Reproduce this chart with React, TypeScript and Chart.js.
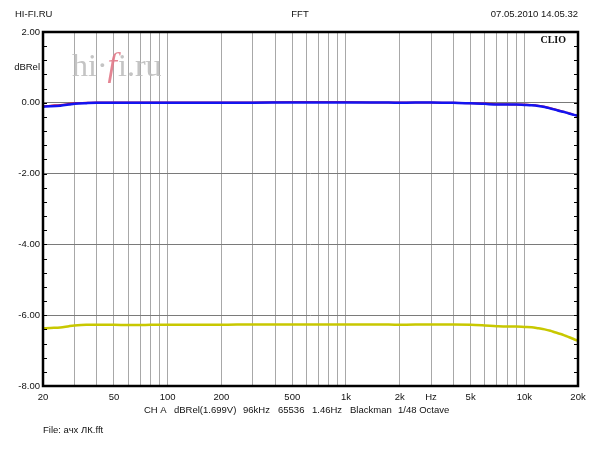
import React, { useEffect, useRef } from 'react';
import { Chart, registerables } from 'chart.js';
Chart.register(...registerables);

const freqs = [20, 22, 25, 28, 30, 35, 40, 50, 60, 70, 80, 100, 150, 200, 300, 500, 700, 1000, 1500, 2000, 3000, 4000, 5000, 6000, 7000, 8000, 9000, 10000, 11000, 12000, 13000, 14000, 15000, 16000, 17000, 18000, 19000, 20000];
const blueDb = [-0.11, -0.10, -0.08, -0.05, -0.03, -0.01, 0.0, 0.0, 0.0, 0.0, 0.0, 0.0, 0.0, 0.0, 0.0, 0.01, 0.01, 0.01, 0.01, 0.0, 0.01, 0.0, -0.01, -0.03, -0.05, -0.05, -0.05, -0.06, -0.07, -0.09, -0.12, -0.16, -0.20, -0.24, -0.27, -0.31, -0.34, -0.37];
const redDb = [-0.10, -0.08, -0.06, -0.03, -0.01, 0.0, 0.01, 0.01, 0.01, 0.01, 0.01, 0.01, 0.01, 0.01, 0.01, 0.02, 0.02, 0.02, 0.01, 0.01, 0.01, 0.0, -0.01, -0.02, -0.04, -0.04, -0.05, -0.05, -0.06, -0.08, -0.11, -0.15, -0.19, -0.23, -0.27, -0.30, -0.34, -0.37];
const yellowDb = [-6.37, -6.36, -6.35, -6.31, -6.29, -6.27, -6.27, -6.27, -6.28, -6.28, -6.27, -6.27, -6.27, -6.27, -6.26, -6.26, -6.26, -6.26, -6.26, -6.27, -6.26, -6.26, -6.27, -6.29, -6.31, -6.32, -6.32, -6.33, -6.34, -6.37, -6.40, -6.44, -6.49, -6.53, -6.58, -6.63, -6.68, -6.72];

const gridFreqs = [20, 30, 40, 50, 60, 70, 80, 90, 100, 200, 300, 400, 500, 600, 700, 800, 900, 1000, 2000, 3000, 4000, 5000, 6000, 7000, 8000, 9000, 10000, 20000];
const xLabels: Record<number, string> = { 20: '20', 50: '50', 100: '100', 200: '200', 500: '500', 1000: '1k', 2000: '2k', 3000: 'Hz', 5000: '5k', 10000: '10k', 20000: '20k' };
const yTicks = [2, 1, 0, -2, -4, -6, -8];
const yMinorStep = 0.4;
const footerParts: [string, number][] = [
  ['CH A', 144], ['dBRel(1.699V)', 174], ['96kHz', 243], ['65536', 278], ['1.46Hz', 312], ['Blackman', 350], ['1/48 Octave', 398],
];

const FONT = '"Liberation Sans", Arial, sans-serif';
const FS = 9.5;

const decor = {
  id: 'decor',
  beforeDatasetsDraw(chart: any) {
    const ctx = chart.ctx;
    ctx.save();
    ctx.textBaseline = 'alphabetic';
    ctx.textAlign = 'left';
    let x = 72;
    const y = 76;
    ctx.font = '32px "Liberation Serif", "Times New Roman", serif';
    ctx.fillStyle = 'rgba(190,190,190,0.9)';
    ctx.fillText('hi·', x, y);
    x += ctx.measureText('hi·').width;
    ctx.font = 'italic 34px "Liberation Serif", "Times New Roman", serif';
    ctx.fillStyle = 'rgba(225,120,135,0.9)';
    ctx.fillText('f', x, y);
    x += ctx.measureText('f').width + 1;
    ctx.font = '32px "Liberation Serif", "Times New Roman", serif';
    ctx.fillStyle = 'rgba(190,190,190,0.9)';
    ctx.fillText('i.ru', x, y);
    ctx.restore();
  },
  afterDraw(chart: any) {
    const ctx = chart.ctx;
    const a = chart.chartArea;
    const ys = chart.scales.y;
    ctx.save();
    ctx.strokeStyle = '#000';
    ctx.lineWidth = 1;
    for (let v = ys.min; v <= ys.max + 1e-6; v += yMinorStep) {
      const py = Math.round(ys.getPixelForValue(v)) + 0.5;
      ctx.beginPath();
      ctx.moveTo(a.left, py);
      ctx.lineTo(a.left + 4, py);
      ctx.moveTo(a.right - 4, py);
      ctx.lineTo(a.right, py);
      ctx.stroke();
    }
    ctx.lineWidth = 2.5;
    ctx.strokeRect(a.left, a.top, a.right - a.left, a.bottom - a.top);
    ctx.fillStyle = '#111';
    ctx.font = FS + 'px ' + FONT;
    ctx.textBaseline = 'middle';
    ctx.textAlign = 'left';
    ctx.fillText('HI-FI.RU', 15, 14);
    ctx.textAlign = 'center';
    ctx.fillText('FFT', 300, 14);
    ctx.textAlign = 'right';
    ctx.fillText('07.05.2010 14.05.32', 578, 14);
    ctx.font = 'bold 10px "Liberation Serif", "Times New Roman", serif';
    ctx.fillText('CLIO', 566, 40);
    ctx.font = FS + 'px ' + FONT;
    ctx.textAlign = 'left';
    footerParts.forEach(([t, px]) => ctx.fillText(t, px, 410));
    ctx.fillText('File: ачх ЛК.fft', 43, 430);
    ctx.restore();
  },
};

export default function App() {
  const ref = useRef<HTMLCanvasElement>(null);
  useEffect(() => {
    if (!ref.current) return;
    const chart = new Chart(ref.current, {
      type: 'line',
      data: {
        datasets: [
          { label: 'blue', data: freqs.map((f, i) => ({ x: f, y: blueDb[i] })), borderColor: '#1414f0', borderWidth: 2.5, pointRadius: 0, cubicInterpolationMode: 'monotone' },
          { label: 'red', data: freqs.map((f, i) => ({ x: f, y: redDb[i] })), borderColor: '#d8143c', borderWidth: 2, pointRadius: 0, cubicInterpolationMode: 'monotone' },
          { label: 'yellow', data: freqs.map((f, i) => ({ x: f, y: yellowDb[i] })), borderColor: '#c8c800', borderWidth: 2.5, pointRadius: 0, cubicInterpolationMode: 'monotone' },
        ],
      },
      options: {
        animation: false,
        responsive: false,
        devicePixelRatio: 1,
        layout: { padding: { left: 0, top: 32, right: 22, bottom: 0 } },
        plugins: { legend: { display: false }, tooltip: { enabled: false } },
        scales: {
          x: {
            type: 'logarithmic',
            min: 20,
            max: 20000,
            afterBuildTicks: (s: any) => { s.ticks = gridFreqs.map((v) => ({ value: v })); },
            afterFit: (s: any) => { s.height = 64; },
            grid: { color: '#a8a8a8', lineWidth: 1, drawTicks: false },
            border: { display: false },
            ticks: {
              autoSkip: false,
              maxRotation: 0,
              padding: 6,
              color: '#111',
              font: { family: FONT, size: FS },
              callback: (v: any) => xLabels[Number(v)] ?? '',
            },
          },
          y: {
            min: -8,
            max: 2,
            afterBuildTicks: (s: any) => { s.ticks = yTicks.map((v) => ({ value: v })); },
            afterFit: (s: any) => { s.width = 43; },
            grid: {
              color: (c: any) => (c.tick && c.tick.value === 1 ? 'rgba(0,0,0,0)' : '#7a7a7a'),
              lineWidth: 1,
              drawTicks: false,
            },
            border: { display: false },
            ticks: {
              padding: 3,
              color: '#111',
              font: { family: FONT, size: FS },
              callback: (v: any) => (Number(v) === 1 ? 'dBRel' : Number(v).toFixed(2)),
            },
          },
        },
      },
      plugins: [decor],
    } as any);
    return () => chart.destroy();
  }, []);
  return (
    <div style={{ position: 'absolute', left: 0, top: 0, width: 600, height: 450, background: '#fff' }}>
      <canvas ref={ref} width={600} height={450} style={{ width: 600, height: 450, display: 'block' }} />
    </div>
  );
}
